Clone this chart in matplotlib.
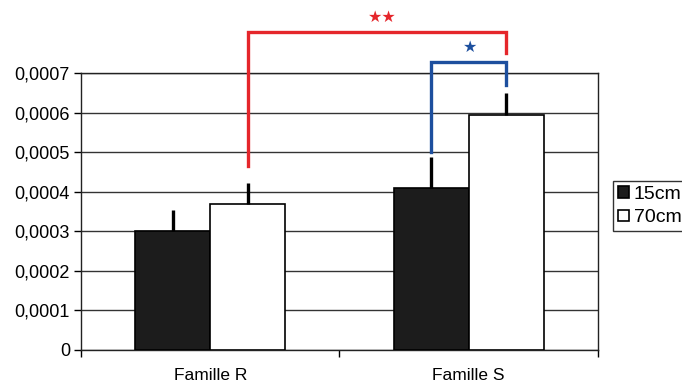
import matplotlib.pyplot as plt
import numpy as np

plt.rcParams['font.family'] = ['Liberation Sans', 'DejaVu Sans']

familles = ['Famille R', 'Famille S']
moy_15 = [0.000300, 0.000409]
moy_70 = [0.000369, 0.000593]
err_15 = [0.000054, 0.000078]
err_70 = [0.000053, 0.000056]
yticks = [0, 0.0001, 0.0002, 0.0003, 0.0004, 0.0005, 0.0006, 0.0007]
ylabels = ['0', '0,0001', '0,0002', '0,0003', '0,0004', '0,0005', '0,0006', '0,0007']

fig = plt.figure(figsize=(6.82, 3.83), dpi=100)
ax = fig.add_axes([0.1188, 0.0862, 0.758, 0.7232])

x = np.arange(len(familles))
w = 0.29
off = 0.145

ax.bar(x - off, moy_15, w, color='#1c1c1c', edgecolor='black', linewidth=1.2,
       label='15cm', zorder=3)
ax.bar(x + off, moy_70, w, color='white', edgecolor='black', linewidth=1.2,
       label='70cm', zorder=3)

# one-sided error bars, no caps
ax.errorbar(x - off, moy_15, yerr=[np.zeros(2), err_15], fmt='none',
            ecolor='black', elinewidth=2.4, capsize=0, zorder=4)
ax.errorbar(x + off, moy_70, yerr=[np.zeros(2), err_70], fmt='none',
            ecolor='black', elinewidth=2.4, capsize=0, zorder=4)

ax.set_xlim(-0.5, 1.5)
ax.set_ylim(0, 0.0007)
ax.set_yticks(yticks)
ax.set_yticklabels(ylabels)
ax.set_xticks(x)
ax.set_xticklabels(familles)
ax.set_xticks([-0.5, 0.5, 1.5], minor=True)
ax.tick_params(axis='x', which='major', length=0, pad=13, labelsize=12.5)
ax.tick_params(axis='x', which='minor', length=5, direction='out', width=1)
ax.tick_params(axis='y', length=5, direction='out', width=1, labelsize=13, pad=3)
ax.yaxis.grid(True, color='#333333', linewidth=1.0, zorder=0)
ax.set_axisbelow(True)
for s in ax.spines.values():
    s.set_color('#222222')
    s.set_linewidth(1.0)

# significance brackets
red = '#e5262b'
blue = '#1d4f9e'
ax.plot([x[0] + off, x[0] + off, x[1] + off, x[1] + off],
        [0.000465, 0.000804, 0.000804, 0.000751],
        color=red, lw=2.4, clip_on=False, solid_joinstyle='miter', zorder=5)
ax.text(0.664, 0.000840, '★★', color=red, ha='center', va='center',
        fontsize=11.5, family='DejaVu Sans')
ax.plot([x[1] - off, x[1] - off, x[1] + off, x[1] + off],
        [0.000500, 0.000728, 0.000728, 0.000670],
        color=blue, lw=2.4, clip_on=False, solid_joinstyle='miter', zorder=5)
ax.text(1.005, 0.000765, '★', color=blue, ha='center', va='center',
        fontsize=11.5, family='DejaVu Sans')

fig.legend(loc='center left', bbox_to_anchor=(0.899, 0.462), frameon=True,
           fancybox=False, edgecolor='black', fontsize=14, handlelength=0.55,
           handleheight=0.55, handletextpad=0.25, borderpad=0.25, labelspacing=0.35,
           borderaxespad=0)

fig.savefig('out.png', dpi=100)
